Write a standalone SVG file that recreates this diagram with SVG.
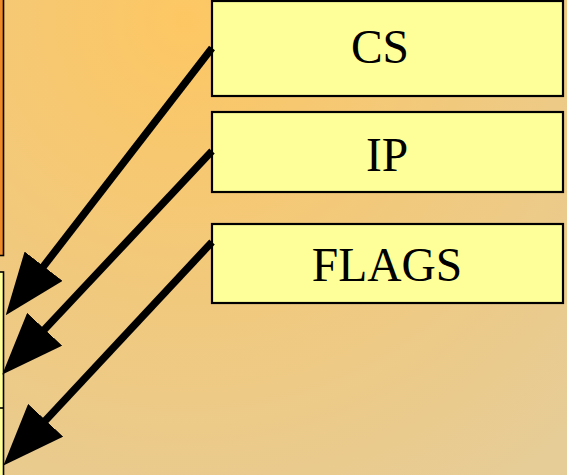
<svg xmlns="http://www.w3.org/2000/svg" width="567" height="475" viewBox="0 0 567 475">
  <defs>
    <radialGradient id="bg" cx="185" cy="20" r="560" gradientUnits="userSpaceOnUse">
      <stop offset="0" stop-color="#fdc763"/>
      <stop offset="0.5" stop-color="#f1c97d"/>
      <stop offset="1" stop-color="#e6cc96"/>
    </radialGradient>
    <marker id="head" markerUnits="userSpaceOnUse" markerWidth="62" markerHeight="48" viewBox="0 0 62 48" refX="1" refY="24" orient="auto">
      <path d="M0,0 L62,24 L0,48 Z" fill="#000"/>
    </marker>
    <style>
      .reg { fill: #ffff99; stroke: #000; stroke-width: 2.2; }
      .lbl { font-family: "Liberation Serif", "Times New Roman", serif; font-size: 47.5px; fill: #000; text-anchor: middle; }
      .conn { fill: none; stroke: #000; stroke-width: 7.5; marker-end: url(#head); }
    </style>
  </defs>

  <rect width="567" height="475" fill="url(#bg)"/>

  <!-- stack edge on the left -->
  <g id="stack-top">
    <rect x="-10" y="-10" width="13.5" height="265.5" fill="#f08a28" stroke="#000" stroke-width="1.6"/>
  </g>
  <g id="stack-slots">
    <rect x="-10" y="272" width="13.5" height="220" fill="#ffff99" stroke="#000" stroke-width="1.6"/>
    <line x1="-10" y1="408" x2="3.5" y2="408" stroke="#000" stroke-width="1.6"/>
  </g>

  <!-- registers -->
  <g id="cs">
    <rect class="reg" x="212" y="1" width="351" height="95"/>
    <text class="lbl" x="380" y="63">CS</text>
  </g>
  <g id="ip">
    <rect class="reg" x="212" y="112" width="351" height="80"/>
    <text class="lbl" x="387" y="171">IP</text>
  </g>
  <g id="flags">
    <rect class="reg" x="212" y="224" width="351" height="79"/>
    <text class="lbl" x="387" y="281">FLAGS</text>
  </g>

  <!-- pushes onto the stack -->
  <g id="connectors">
    <path class="conn" d="M212,48 L43,267"/>
    <path class="conn" d="M212,151 L44,330"/>
    <path class="conn" d="M212,242 L45,421"/>
  </g>
</svg>
